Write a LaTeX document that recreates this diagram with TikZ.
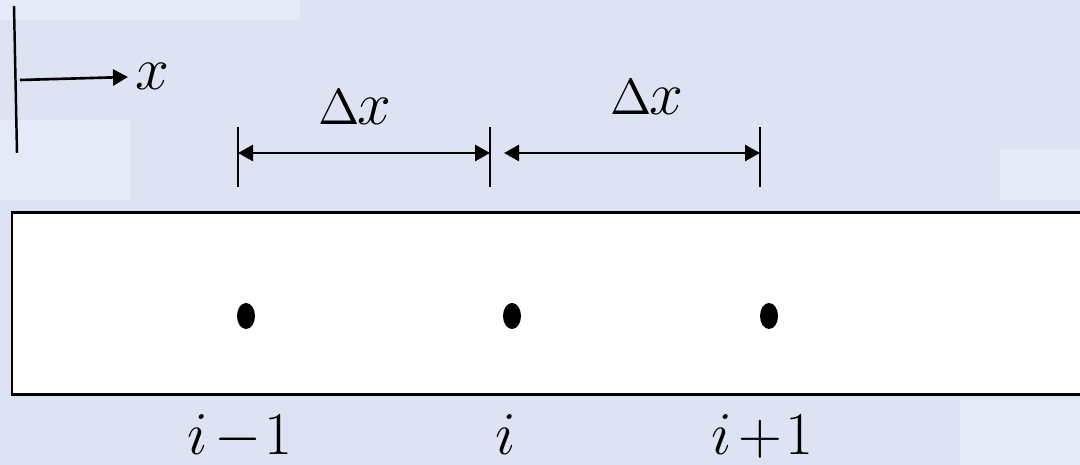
\documentclass[tikz,border=0pt]{standalone}
\usetikzlibrary{arrows.meta,shapes.geometric}
\definecolor{bgblue}{RGB}{221,227,243}
\definecolor{bglight}{RGB}{229,234,248}
\tikzset{
  lbl/.style={inner sep=0pt, anchor=base, font=\fontsize{16pt}{19pt}\selectfont},
  dotmark/.style={ellipse, fill=black, inner sep=0pt, minimum width=0.18cm, minimum height=0.26cm},
  thin line/.style={line width=0.7pt},
  dimarrow/.style={line width=0.75pt, {Triangle[length=0.15cm,width=0.16cm]}-{Triangle[length=0.15cm,width=0.16cm]}},
  axarrow/.style={line width=0.75pt, -{Triangle[length=0.15cm,width=0.16cm]}},
}
\newcommand{\dx}{{\fontsize{14pt}{16pt}\selectfont$\Delta$}\kern-0.5pt$x$}
\begin{document}
\begin{tikzpicture}[x=0.01cm,y=-0.01cm]
\useasboundingbox (0,0) rectangle (1080,465);
\fill[bgblue] (0,0) rectangle (1080,465);
% subtle lighter patches of the background texture
\fill[bglight] (0,120) rectangle (130,200);
\fill[bglight] (1000,150) rectangle (1080,200);
\fill[bglight] (960,400) rectangle (1080,465);
\fill[bglight] (0,0) rectangle (300,20);
% axis
\coordinate (vtop) at (14,6);
\coordinate (vbot) at (17,153);
\draw[thin line] (vtop) -- (vbot);
\coordinate (axs) at (20,80);
\coordinate (axe) at (128,77);
\draw[axarrow] (axs) -- (axe);
\node[lbl] (xl) at (152,90) {$x$};
% dimension ticks
\coordinate (t1a) at (238,127); \coordinate (t1b) at (238,187);
\coordinate (t2a) at (490,127); \coordinate (t2b) at (490,187);
\coordinate (t3a) at (760,127); \coordinate (t3b) at (760,187);
\draw[thin line] (t1a) -- (t1b);
\draw[thin line] (t2a) -- (t2b);
\draw[thin line] (t3a) -- (t3b);
\coordinate (a1s) at (238,153); \coordinate (a1e) at (490,153);
\coordinate (a2s) at (504,153); \coordinate (a2e) at (760,153);
\draw[dimarrow] (a1s) -- (a1e);
\draw[dimarrow] (a2s) -- (a2e);
\node[lbl] (dx1) at (355,125) {\dx};
\node[lbl] (dx2) at (647,115) {\dx};
% bar
\fill[white] (12,213) rectangle (1080,395);
\draw[line width=0.85pt] (1080,213) -- (12,213) -- (12,395) -- (1080,395);
% grid points
\node[dotmark] (p1) at (246,316) {};
\node[dotmark] (p2) at (512,316) {};
\node[dotmark] (p3) at (769,316) {};
% labels
\node[lbl] (l1) at (240,455) {$i\mskip2mu{-}\mskip1mu1$};
\node[lbl] (l2) at (506,455) {$i$};
\node[lbl] (l3) at (762,455) {$i\mskip2mu{+}\mskip1mu1$};
\end{tikzpicture}
\end{document}
